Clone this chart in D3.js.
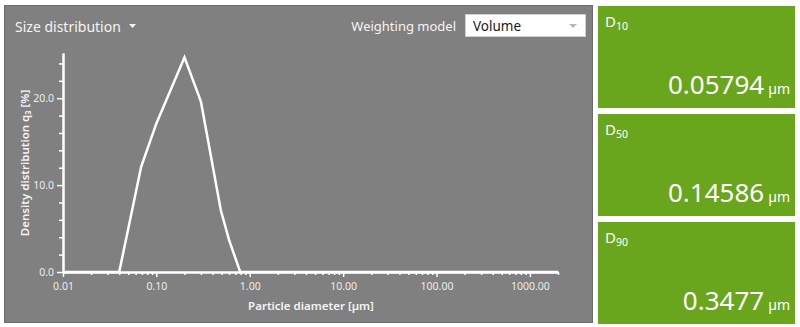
<!DOCTYPE html>
<html>
<head>
<meta charset="utf-8">
<script src="https://cdn.jsdelivr.net/npm/d3@7"></script>
<style>
  body { margin: 0; background: #fff; }
  text { font-family: "Segoe UI", "Noto Sans", "Open Sans", sans-serif; }
</style>
</head>
<body>
<div id="chart"></div>
<script>
// size distribution (volume weighted)
var diameters = [0.01, 0.04, 0.0687, 0.1, 0.2, 0.3, 0.49, 0.6, 0.79, 2000];
var density   = [0,    0,    12.1,   17.1, 24.7, 19.6, 7.1, 3.7, 0,   0];

var xMajor = [0.01, 0.1, 1, 10, 100, 1000];
var xMajorLabels = ["0.01", "0.10", "1.00", "10.00", "100.00", "1000.00"];
var yMajor = [0, 10, 20];
var yMajorLabels = ["0.0", "10.0", "20.0"];

var statNames = ["10", "50", "90"];
var statValues = ["0.05794", "0.14586", "0.3477"];

var svg = d3.select("#chart")
	.append("svg")
	.attr("width", 800)
	.attr("height", 327);

// main gray panel
svg.append("rect")
	.attr("x", 4.5).attr("y", 5.5)
	.attr("width", 588).attr("height", 317)
	.attr("fill", "#808080")
	.attr("stroke", "#6a6a6a");

svg.append("text")
	.attr("x", 15).attr("y", 32)
	.attr("fill", "#f4f4f4")
	.style("font-size", "14px")
	.text("Size distribution");
svg.append("path")
	.attr("d", "M129,24 L136,24 L132.5,28 Z")
	.attr("fill", "#f4f4f4");

svg.append("text")
	.attr("x", 456).attr("y", 31)
	.attr("fill", "#f4f4f4")
	.style("font-size", "13px")
	.style("text-anchor", "end")
	.text("Weighting model");

svg.append("rect")
	.attr("x", 465.5).attr("y", 14.5)
	.attr("width", 120).attr("height", 22)
	.attr("fill", "#fff")
	.attr("stroke", "#d0d0d0");
svg.append("text")
	.attr("x", 473).attr("y", 31)
	.attr("fill", "#1a1a1a")
	.style("font-size", "13.5px")
	.text("Volume");
svg.append("path")
	.attr("d", "M569,24 L577,24 L573,28 Z")
	.attr("fill", "#b8b8b8");

// scales
var x = d3.scaleLog()
	.domain([0.01, 2000])
	.range([63, 558]);

var y = d3.scaleLinear()
	.domain([0, 25.2])
	.range([272, 53]);

var xMinor = [];
for (var e = -2; e <= 3; e++) {
	for (var m = 2; m <= 9; m++) {
		var v = m * Math.pow(10, e);
		if (v <= 2000) xMinor.push(v);
	}
}
var yMinor = d3.range(0, 25, 2).filter(d => yMajor.indexOf(d) < 0);

function styleAxis(g) {
	g.select(".domain").attr("stroke", "#fff").attr("stroke-width", 2);
	g.selectAll(".tick line").attr("stroke", "#fff").attr("stroke-width", 1.5);
	g.selectAll(".tick text")
		.attr("fill", "#ececec")
		.style("font-size", "10.5px")
		.style("font-family", "'Segoe UI', 'Noto Sans', sans-serif");
}

svg.append("g")
	.attr("transform", "translate(0,272)")
	.call(d3.axisBottom(x).tickValues(xMinor).tickSize(3).tickFormat("").tickSizeOuter(0))
	.call(styleAxis);

svg.append("g")
	.attr("transform", "translate(0,272)")
	.call(d3.axisBottom(x).tickValues(xMajor).tickSize(5).tickSizeOuter(0)
		.tickFormat((d, i) => xMajorLabels[i]))
	.call(styleAxis)
	.call(g => g.selectAll(".tick text").attr("y", 11));

svg.append("g")
	.attr("transform", "translate(63,0)")
	.call(d3.axisLeft(y).tickValues(yMinor).tickSize(4).tickFormat("").tickSizeOuter(0))
	.call(styleAxis);

svg.append("g")
	.attr("transform", "translate(63,0)")
	.call(d3.axisLeft(y).tickValues(yMajor).tickSize(6).tickSizeOuter(0)
		.tickFormat((d, i) => yMajorLabels[i]))
	.call(styleAxis)
	.call(g => g.selectAll(".tick text").attr("x", -9));

// axis titles
svg.append("text")
	.attr("x", 311).attr("y", 310)
	.attr("fill", "#f4f4f4")
	.style("font-size", "11.5px")
	.style("font-weight", 600)
	.style("text-anchor", "middle")
	.text("Particle diameter [µm]");

svg.append("text")
	.attr("transform", "translate(29,163) rotate(-90)")
	.attr("fill", "#f4f4f4")
	.style("font-size", "11.5px")
	.style("font-weight", 600)
	.style("text-anchor", "middle")
	.text("Density distribution q₃ [%]");

// curve
var line = d3.line()
	.x(d => x(d[0]))
	.y(d => y(d[1]));

svg.append("path")
	.datum(diameters.map((d, i) => [d, density[i]]))
	.attr("d", line)
	.attr("fill", "none")
	.attr("stroke", "#fff")
	.attr("stroke-width", 2.5)
	.attr("stroke-linejoin", "miter");

// D-value tiles
var tileY = [6, 114, 222];
var tiles = svg.selectAll(".tile")
	.data(statValues)
	.enter()
	.append("g")
	.attr("class", "tile")
	.attr("transform", (d, i) => "translate(598," + tileY[i] + ")");

tiles.append("rect")
	.attr("width", 197).attr("height", 102)
	.attr("fill", "#69a51d");

var lbl = tiles.append("text")
	.attr("x", 7).attr("y", 21)
	.attr("fill", "#fff")
	.style("font-size", "15px");
lbl.append("tspan").text("D");
lbl.append("tspan")
	.attr("dy", 3)
	.style("font-size", "10.5px")
	.text((d, i) => statNames[i]);

var val = tiles.append("text")
	.attr("x", 192).attr("y", 88)
	.attr("fill", "#fff")
	.style("text-anchor", "end");
val.append("tspan")
	.style("font-size", "26px")
	.text(d => d);
val.append("tspan")
	.attr("dx", 4)
	.style("font-size", "14px")
	.text("µm");
</script>
</body>
</html>
